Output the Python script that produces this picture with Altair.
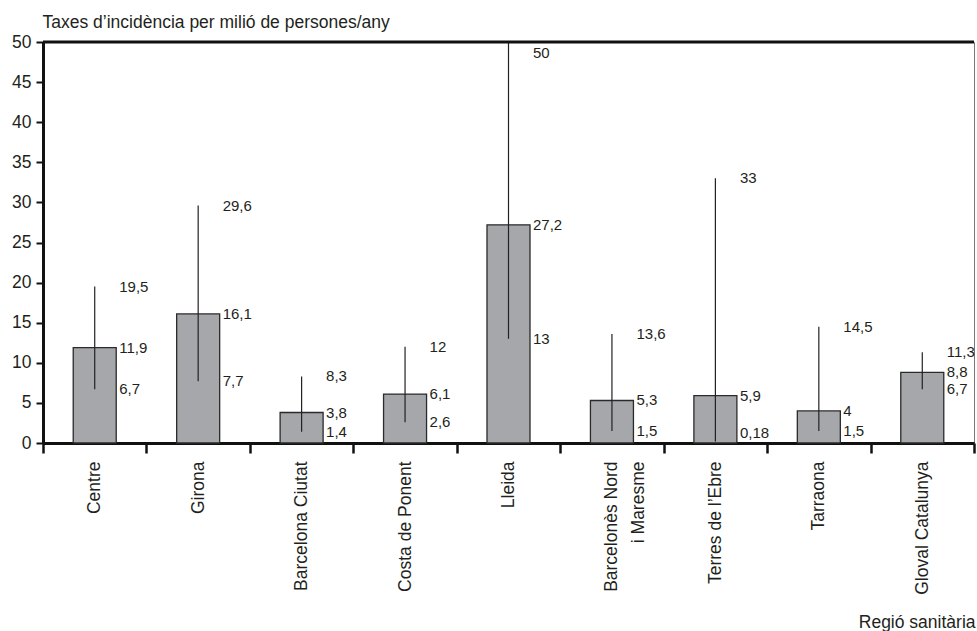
import altair as alt
import pandas as pd

# Health regions (a "\n" splits an axis label over two lines)
REGIONS = [
    "Centre",
    "Girona",
    "Barcelona Ciutat",
    "Costa de Ponent",
    "Lleida",
    "Barcelonès Nord\ni Maresme",
    "Terres de l’Ebre",
    "Tarraona",
    "Gloval Catalunya",
]
# Incidence rate and its interval (per million persons/year)
LOW = [6.7, 7.7, 1.4, 2.6, 13, 1.5, 0.18, 1.5, 6.7]
RATE = [11.9, 16.1, 3.8, 6.1, 27.2, 5.3, 5.9, 4, 8.8]
HIGH = [19.5, 29.6, 8.3, 12, 50, 13.6, 33, 14.5, 11.3]
Y_TICKS = [0, 5, 10, 15, 20, 25, 30, 35, 40, 45, 50]

Y_TITLE = "Taxes d’incidència per milió de persones/any"
FONT = "Liberation Sans"
INK = "#231f20"
W, H = 931, 401
BAR_W = 43


def fmt(v):
    return str(v).replace(".", ",")


bars_df = pd.DataFrame({"region": REGIONS, "low": LOW, "rate": RATE, "high": HIGH})
labels_df = pd.DataFrame(
    [
        {"region": r, "value": v, "text": fmt(v)}
        for r, lo, md, hi in zip(REGIONS, LOW, RATE, HIGH)
        for v in (lo, md, hi)
    ]
)

x_enc = alt.X(
    "region:N",
    sort=REGIONS,
    scale=alt.Scale(paddingInner=0, paddingOuter=0),
    axis=alt.Axis(
        title="Regió sanitària",
        titleX=W + 1,
        titleY=184,
        titleAlign="right",
        titleAnchor="end",
        titleBaseline="alphabetic",
        titleFontSize=17.5,
        titleFontWeight="normal",
        titleColor=INK,
        titleFont=FONT,
        labelAngle=-90,
        labelAlign="right",
        labelBaseline="middle",
        labelPadding=8,
        labelFontSize=17.5,
        labelFont=FONT,
        labelColor=INK,
        labelLineHeight=27,
        labelExpr="split(datum.label, '\\n')",
        tickSize=10,
        tickWidth=2.5,
        tickColor="#111",
        tickBand="extent",
        domainWidth=3,
        domainColor="#111",
    ),
)

y_scale = alt.Scale(domain=[0, 50], nice=False, zero=True)

bars = alt.Chart(bars_df).mark_bar(
    size=BAR_W, color="#a6a7aa", stroke="#2a2a2a", strokeWidth=1.3
).encode(
    x=x_enc,
    y=alt.Y(
        "rate:Q",
        scale=y_scale,
        title=Y_TITLE,
        axis=alt.Axis(
            values=Y_TICKS,
            grid=False,
            titleAngle=0,
            titleAlign="left",
            titleAnchor="start",
            titleBaseline="alphabetic",
            titleX=-1,
            titleY=-15,
            titleFontSize=17.5,
            titleFontWeight="normal",
            titleColor=INK,
            titleFont=FONT,
            labelFontSize=17.5,
            labelFont=FONT,
            labelColor=INK,
            labelPadding=5,
            tickSize=7,
            tickWidth=2,
            tickColor="#111",
            domainWidth=3,
            domainColor="#111",
        ),
    ),
)

whiskers = alt.Chart(bars_df).mark_rule(color="#222", strokeWidth=1.2).encode(
    x=alt.X("region:N", sort=REGIONS),
    y=alt.Y("low:Q", title=Y_TITLE),
    y2="high:Q",
)

labels = (
    alt.Chart(labels_df)
    .transform_calculate(ly="clamp(datum.value, 1.3, 48.6)")
    .mark_text(
        align="left",
        baseline="middle",
        dx=BAR_W / 2 + 3,
        fontSize=15,
        font=FONT,
        color=INK,
    )
    .encode(
        x=alt.X("region:N", sort=REGIONS),
        y=alt.Y("ly:Q", title=Y_TITLE),
        text="text:N",
    )
)

top_edge = alt.Chart(pd.DataFrame({"y": [50]})).mark_rule(
    color="#111", strokeWidth=3
).encode(y=alt.Y("y:Q", title=Y_TITLE))

chart = (
    alt.layer(bars, whiskers, labels, top_edge)
    .properties(
        width=W,
        height=H,
        autosize=alt.AutoSizeParams(type="none"),
        padding={"left": 43, "top": 42, "right": 3, "bottom": 188},
        background="white",
    )
    .configure_view(stroke="#777", strokeWidth=1)
)

chart.save("out.html", embed_options={"renderer": "svg", "actions": False})
